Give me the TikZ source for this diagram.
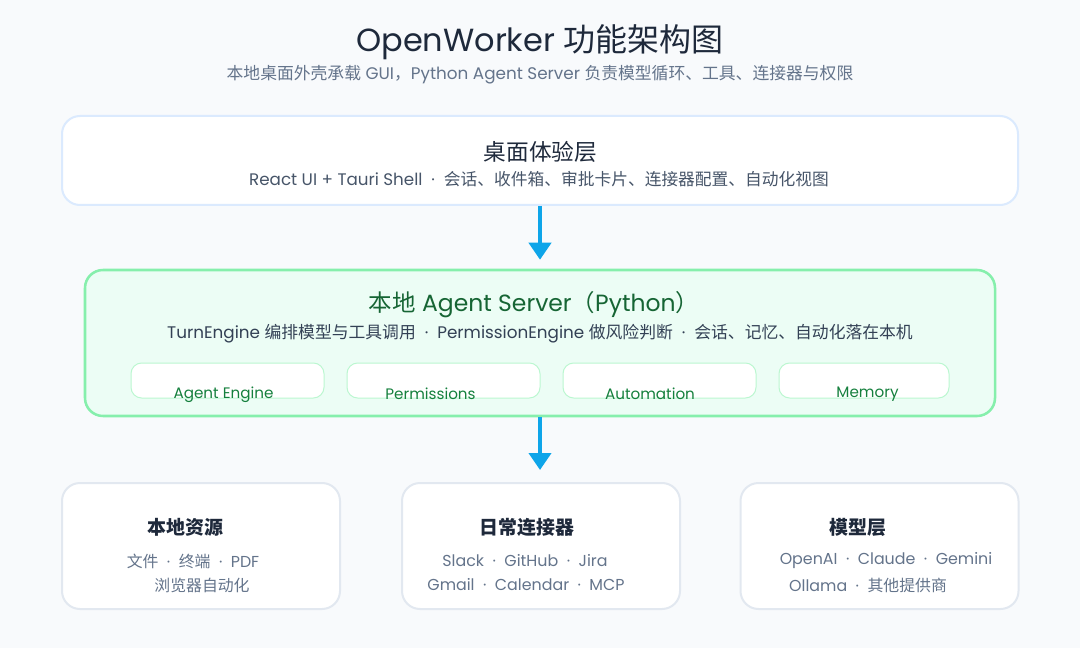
\documentclass[tikz,border=0pt]{standalone}
\usepackage{fontspec}
\setmainfont{Poppins}
\newfontfamily\cjk{Noto Sans CJK SC}
\usetikzlibrary{arrows.meta}
\newcommand\zh[1]{{\cjk #1}}
\definecolor{bg}{HTML}{F8FAFC}
\definecolor{ink}{HTML}{1E293B}
\definecolor{muted}{HTML}{64748B}
\definecolor{slate}{HTML}{475569}
\definecolor{slatedk}{HTML}{334155}
\definecolor{blueline}{HTML}{DBEAFE}
\definecolor{arrowc}{HTML}{0EA5E9}
\definecolor{greenfill}{HTML}{ECFDF5}
\definecolor{greenline}{HTML}{86EFAC}
\definecolor{greenlt}{HTML}{BBF7D0}
\definecolor{greentxt}{HTML}{166534}
\definecolor{greenlab}{HTML}{15803D}
\definecolor{grayline}{HTML}{E2E8F0}
\begin{document}
\begin{tikzpicture}[x=0.75pt,y=-0.75pt,
  txt/.style={inner sep=0pt, anchor=center},
  layerbox/.style={draw=blueline, line width=1.5pt, fill=white, rounded corners=13.5pt, inner sep=0pt},
  serverbox/.style={draw=greenline, line width=1.9pt, fill=greenfill, rounded corners=13.5pt, inner sep=0pt},
  modbox/.style={draw=greenlt, line width=0.75pt, fill=white, rounded corners=8pt, inner sep=0pt, minimum height=26.25pt},
  resbox/.style={draw=grayline, line width=1.5pt, fill=white, rounded corners=13.5pt, inner sep=0pt, minimum width=208.5pt, minimum height=94.5pt},
  flow/.style={draw=arrowc, line width=3pt, -{Triangle[width=16.5pt,length=12.75pt]}},
  modlab/.style={txt, text=greenlab, font=\fontsize{11.4}{13}\selectfont},
  restitle/.style={txt, text=ink, font=\fontsize{14.2}{17}\selectfont\bfseries},
  resline/.style={txt, text=muted, font=\fontsize{11.9}{14}\selectfont}
]
\fill[bg] (0,0) rectangle (1080,648);
\useasboundingbox (0,0) rectangle (1080,648);

% title
\node[txt, text=ink, font=\fontsize{24}{28}\selectfont] (title) at (540,42) {OpenWorker \zh{功能架构图}};
\node[txt, text=muted, font=\fontsize{12.6}{15}\selectfont] (subtitle) at (540,75) {\zh{本地桌面外壳承载} GUI\zh{，}Python Agent Server \zh{负责模型循环、工具、连接器与权限}};

% desktop layer
\node[layerbox, minimum width=717pt, minimum height=66.75pt] (desk) at (540,160.5) {};
\node[txt, text=ink, font=\fontsize{17}{20}\selectfont] (desktitle) at (540.5,151.5) {\zh{桌面体验层}};
\node[txt, text=slate, font=\fontsize{12.55}{15}\selectfont] (desksub) at (539,179) {React UI + Tauri Shell \ · \ \zh{会话、收件箱、审批卡片、连接器配置、自动化视图}};

% server layer
\node[serverbox, minimum width=682.5pt, minimum height=109.5pt] (server) at (540,343) {};
\node[txt, text=greentxt, font=\fontsize{17.6}{21}\selectfont] (servertitle) at (534,305) {\zh{本地} Agent Server\zh{（}Python\zh{）}};
\node[txt, text=slatedk, font=\fontsize{12.6}{15}\selectfont] (serversub) at (540,333.5) {TurnEngine \zh{编排模型与工具调用} \ · \ PermissionEngine \zh{做风险判断} \ · \ \zh{会话、记忆、自动化落在本机}};

\node[modbox, minimum width=144.75pt] (m1) at (227.5,380.5) {};
\node[modbox, minimum width=144.75pt] (m2) at (443.5,380.5) {};
\node[modbox, minimum width=144.75pt] (m3) at (659.5,380.5) {};
\node[modbox, minimum width=127.5pt] (m4) at (864,380.5) {};
\node[modlab] (l1) at (223.5,394.5) {Agent Engine};
\node[modlab] (l2) at (430.5,393.5) {Permissions};
\node[modlab] (l3) at (650,393.5) {Automation};
\node[modlab] (l4) at (867.5,394.5) {Memory};

% bottom layer
\node[resbox] (local) at (201,546) {};
\node[resbox] (conn) at (541,546) {};
\node[resbox] (model) at (879.5,546) {};

\node[restitle] (t1) at (185.5,527) {\zh{本地资源}};
\node[resline] (a1) at (193,561) {\zh{文件} \ · \ \zh{终端} \ · \ PDF};
\node[resline] (a2) at (202,585) {\zh{浏览器自动化}};

\node[restitle] (t2) at (527,527) {\zh{日常连接器}};
\node[resline] (b1) at (525,561) {Slack \ · \ GitHub \ · \ Jira};
\node[resline] (b2) at (526,585) {Gmail \ · \ Calendar \ · \ MCP};

\node[restitle] (t3) at (858,527) {\zh{模型层}};
\node[resline] (c1) at (886,561) {OpenAI \ · \ Claude \ · \ Gemini};
\node[resline] (c2) at (868,585) {Ollama \ · \ \zh{其他提供商}};

% arrows
\draw[flow, shorten >=6.75pt] (desk.south) -- (desk.south |- server.north);
\draw[flow, shorten >=9pt] (server.south) -- (server.south |- conn.north);
\end{tikzpicture}
\end{document}
